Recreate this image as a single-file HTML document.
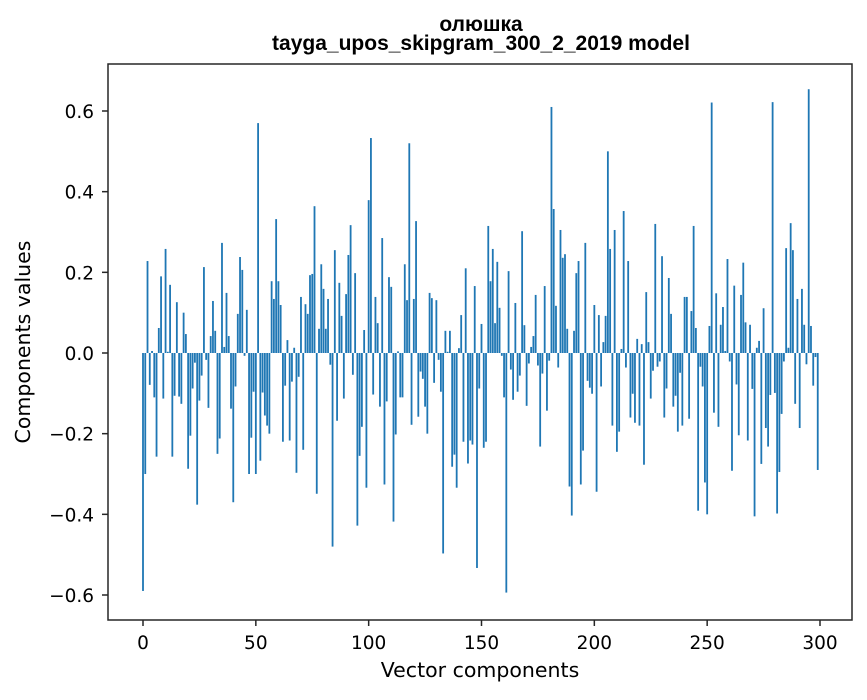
<!DOCTYPE html>
<html><head><meta charset="utf-8">
<style>
body{margin:0;background:#fff;width:867px;height:696px;overflow:hidden;font-family:"DejaVu Sans",sans-serif;}
</style></head>
<body>
<svg id="chart" width="867" height="696" xmlns="http://www.w3.org/2000/svg">
<text x="481" y="31" text-anchor="middle" font-size="21" font-weight="bold" font-family="Liberation Sans, sans-serif">олюшка</text>
<text x="481" y="50" text-anchor="middle" font-size="21" font-weight="bold" font-family="Liberation Sans, sans-serif">tayga_upos_skipgram_300_2_2019 model</text>
<g id="bars"></g>
<g id="axes"></g>
<text x="480" y="677" text-anchor="middle" font-size="20.5" font-family="DejaVu Sans, sans-serif">Vector components</text>
<text transform="translate(30,342) rotate(-90)" text-anchor="middle" font-size="20.5" font-family="DejaVu Sans, sans-serif">Components values</text>
</svg>
<script>
const values = [
-0.59,-0.30,0.228,-0.079,0.005,-0.11,-0.257,0.062,0.19,-0.113,
0.258,0.003,0.169,-0.257,-0.106,0.126,-0.108,-0.126,0.10,0.047,
-0.287,-0.205,-0.088,-0.024,-0.376,-0.118,-0.056,0.213,-0.017,-0.136,
0.042,0.129,0.055,-0.25,-0.212,0.273,0.015,0.149,0.042,-0.138,
-0.37,-0.083,0.097,0.238,0.206,-0.007,0.107,-0.30,-0.21,-0.096,
-0.30,0.57,-0.267,-0.098,-0.155,-0.18,-0.20,0.178,0.134,0.332,
0.178,0.119,-0.22,-0.081,0.032,-0.217,-0.071,0.013,-0.297,-0.059,
0.139,-0.24,0.121,0.097,0.193,0.196,0.364,-0.349,0.06,0.22,
0.159,0.06,0.134,-0.029,-0.48,0.255,-0.168,0.174,0.092,-0.113,
0.146,0.243,0.317,-0.054,0.198,-0.428,-0.255,-0.183,0.057,-0.334,
0.379,0.533,-0.103,0.139,0.074,-0.133,0.285,-0.326,-0.12,0.188,
0.164,-0.418,-0.202,0.004,-0.11,-0.11,0.22,0.131,0.52,-0.178,
0.134,0.327,-0.158,-0.046,-0.064,-0.133,-0.20,0.149,0.136,-0.074,
0.131,-0.017,-0.096,-0.497,0.055,0.003,0.055,-0.282,-0.252,-0.334,
0.012,0.094,-0.22,0.21,-0.274,-0.217,-0.227,0.166,-0.533,-0.088,
0.072,-0.235,-0.22,0.315,0.178,0.258,0.074,0.226,0.112,-0.007,
-0.11,-0.594,0.203,-0.041,-0.116,0.124,-0.096,-0.056,0.302,0.069,
-0.131,-0.026,0.015,0.042,0.144,-0.031,-0.232,-0.051,0.166,-0.143,
-0.019,0.61,0.357,0.117,-0.036,0.305,0.236,0.245,0.06,-0.331,
-0.403,0.055,0.198,0.228,-0.326,-0.242,0.273,-0.069,-0.086,-0.101,
0.119,-0.344,0.094,-0.083,0.027,0.092,0.50,0.258,-0.18,0.305,
-0.245,-0.195,0.01,0.352,-0.036,0.228,-0.16,-0.101,-0.173,0.035,
-0.18,0.022,-0.277,0.151,0.027,-0.113,-0.044,0.32,-0.034,-0.021,
0.24,-0.16,-0.088,0.186,0.097,-0.133,-0.106,-0.195,-0.049,-0.18,
0.139,0.139,-0.163,0.104,0.315,0.062,-0.391,-0.034,-0.083,-0.321,
-0.40,0.067,0.621,-0.148,0.148,-0.183,0.07,0.114,0.005,0.233,
-0.021,-0.292,0.167,-0.078,-0.204,0.144,0.224,0.076,-0.217,0.07,
-0.089,-0.405,0.013,0.03,-0.275,0.111,-0.186,-0.232,-0.104,0.622,
-0.099,-0.398,-0.295,-0.151,-0.021,0.26,0.013,0.322,0.255,-0.126,
0.134,-0.186,0.159,0.07,-0.028,0.654,0.067,-0.081,-0.01,-0.29
];
const xTicks = [0,50,100,150,200,250,300];
const yTicks = [-0.6,-0.4,-0.2,0.0,0.2,0.4,0.6];
const yTickLabels = ["\u22120.6","\u22120.4","\u22120.2","0.0","0.2","0.4","0.6"];

const NS="http://www.w3.org/2000/svg";
const L=108,R=852,T=64,B=620;
function xs(v){return 143+v*(820-143)/300;}
function ys(v){return 353-v*(353-111)/0.6;}
const bars=document.getElementById('bars');
values.forEach((v,i)=>{
  const r=document.createElementNS(NS,'rect');
  const w=0.8*(820-143)/300;
  r.setAttribute('x',xs(i)-w/2);
  const y0=ys(0),y1=ys(v);
  r.setAttribute('y',Math.min(y0,y1));
  r.setAttribute('width',w);
  r.setAttribute('height',Math.abs(y1-y0));
  r.setAttribute('fill','#1f77b4');
  
  
  bars.appendChild(r);
});
const ax=document.getElementById('axes');
const frame=document.createElementNS(NS,'rect');
frame.setAttribute('x',L);frame.setAttribute('y',T);frame.setAttribute('width',R-L);frame.setAttribute('height',B-T);
frame.setAttribute('fill','none');frame.setAttribute('stroke','#262626');frame.setAttribute('stroke-width','1.5');


ax.appendChild(frame);
xTicks.forEach(t=>{
  const x=xs(t);
  const ln=document.createElementNS(NS,'line');
  ln.setAttribute('x1',x);ln.setAttribute('x2',x);ln.setAttribute('y1',B);ln.setAttribute('y2',B+6);ln.setAttribute('stroke','#262626');ln.setAttribute('stroke-width','1.5');
  
  
  ax.appendChild(ln);
  const tx=document.createElementNS(NS,'text');
  tx.setAttribute('x',x);tx.setAttribute('y',649);tx.setAttribute('text-anchor','middle');tx.setAttribute('font-size','18.5');
  tx.textContent=String(t);
  
  
  ax.appendChild(tx);
});
yTicks.forEach((t,i)=>{
  const y=ys(t);
  const ln=document.createElementNS(NS,'line');
  ln.setAttribute('x1',L-6);ln.setAttribute('x2',L);ln.setAttribute('y1',y);ln.setAttribute('y2',y);ln.setAttribute('stroke','#262626');ln.setAttribute('stroke-width','1.5');
  
  
  ax.appendChild(ln);
  const tx=document.createElementNS(NS,'text');
  tx.setAttribute('x',94);tx.setAttribute('y',y+7);tx.setAttribute('text-anchor','end');tx.setAttribute('font-size','18.5');
  tx.textContent=yTickLabels[i];
  
  
  ax.appendChild(tx);
});
</script>
</body></html>
